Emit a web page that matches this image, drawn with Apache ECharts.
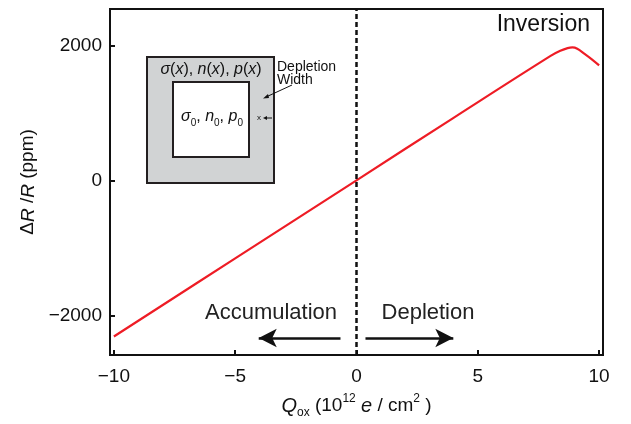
<!DOCTYPE html>
<html>
<head>
<meta charset="utf-8">
<script src="https://cdn.jsdelivr.net/npm/echarts@6/dist/echarts.min.js"></script>
<style>
  html, body { margin: 0; padding: 0; background: #fff; }
  #chart { width: 631px; height: 424px; }
</style>
</head>
<body>
<div id="chart"></div>
<script>
// Qox (1e12 e/cm2) vs dR/R (ppm)
const qox = [-10, -5, 0, 4, 8, 8.4, 8.7, 8.9, 9.1, 9.4, 9.7, 10]
const dRR = [-2300, -1145, 10, 934, 1850, 1925, 1965, 1975, 1955, 1880, 1800, 1710]

const xTicks = [-10, -5, 0, 5, 10]
const yTicks = [-2000, 0, 2000]

// arrows under the labels: [fromX, toX, y]
const accArrow = [-0.66, -4.03, -2323]
const depArrow = [0.37, 3.99, -2323]

const font = 'Liberation Sans, Arial, Helvetica, sans-serif'
const minus = v => String(v).replace('-', '\u2212')

const chart = echarts.init(document.getElementById('chart'))

const curve = qox.map((x, i) => [x, dRR[i]])

chart.setOption({
  animation: false,
  textStyle: { fontFamily: font },
  grid: {
    left: 110, right: 28, top: 9, bottom: 67,
    show: true, borderColor: '#111', borderWidth: 2,
    backgroundColor: 'transparent'
  },
  xAxis: {
    type: 'value',
    min: -10.16, max: 10.16,
    axisLine: { show: false, onZero: false },
    splitLine: { show: false },
    axisTick: {
      customValues: xTicks, inside: true, length: 5,
      lineStyle: { color: '#111', width: 2 }
    },
    axisLabel: {
      customValues: xTicks, margin: 12, fontSize: 19, color: '#111',
      fontFamily: font, formatter: minus
    },
    name: '{i|Q}{sub|ox} (10{sup|12} {i|e} / cm{sup|2} )',
    nameLocation: 'middle',
    nameGap: 38,
    nameTextStyle: {
      fontSize: 19, color: '#111', fontFamily: font,
      rich: {
        i: { fontSize: 20, fontStyle: 'italic', lineHeight: 26, color: '#111' },
        sub: { fontSize: 12, lineHeight: 12, verticalAlign: 'bottom', color: '#111' },
        sup: { fontSize: 12, lineHeight: 12, verticalAlign: 'top', color: '#111' }
      }
    }
  },
  yAxis: {
    type: 'value',
    min: -2574, max: 2544,
    axisLine: { show: false, onZero: false },
    splitLine: { show: false },
    axisTick: {
      customValues: yTicks, inside: true, length: 5,
      lineStyle: { color: '#111', width: 2 }
    },
    axisLabel: {
      customValues: yTicks, margin: 8, fontSize: 19, color: '#111',
      fontFamily: font, formatter: minus
    },
    name: '\u0394{i|R} /{i|R} (ppm)',
    nameLocation: 'middle',
    nameRotate: 90,
    nameGap: 72,
    nameTextStyle: {
      fontSize: 19, color: '#111', fontFamily: font,
      rich: { i: { fontSize: 19, fontStyle: 'italic', color: '#111' } }
    }
  },
  series: [
    {
      type: 'line',
      data: curve,
      smooth: 0.4,
      showSymbol: false,
      lineStyle: { color: '#ee1c25', width: 2.2 },
      markLine: {
        silent: true,
        label: { show: false },
        data: [
          [{ xAxis: 0, yAxis: -2574, symbol: 'none' }, { xAxis: 0, yAxis: 2544, symbol: 'none' }],
          [
            { coord: [accArrow[0], accArrow[2]], symbol: 'none',
              lineStyle: { type: 'solid', width: 2.5, color: '#111' } },
            { coord: [accArrow[1], accArrow[2]], symbol: 'arrow', symbolSize: [14, 18] }
          ],
          [
            { coord: [depArrow[0], depArrow[2]], symbol: 'none',
              lineStyle: { type: 'solid', width: 2.5, color: '#111' } },
            { coord: [depArrow[1], depArrow[2]], symbol: 'arrow', symbolSize: [14, 18] }
          ]
        ],
        lineStyle: { color: '#111', type: [5, 3], width: 2.5 }
      }
    }
  ],
  graphic: [
    // inset sketch
    { type: 'rect', shape: { x: 147, y: 57, width: 127, height: 126 },
      style: { fill: '#d1d3d4', stroke: '#231f20', lineWidth: 2 } },
    { type: 'rect', shape: { x: 173, y: 82, width: 76, height: 75 },
      style: { fill: '#fff', stroke: '#231f20', lineWidth: 2 } },
    { type: 'text', x: 211, y: 70,
      style: {
        text: '{i|\u03c3}({i|x}), {i|n}({i|x}), {i|p}({i|x})',
        fontSize: 16, fontFamily: font, fill: '#111', align: 'center', verticalAlign: 'middle',
        rich: { i: { fontSize: 16, fontStyle: 'italic', fill: '#111' } }
      } },
    { type: 'text', x: 212, y: 117,
      style: {
        text: '{i|\u03c3}{s|0}, {i|n}{s|0}, {i|p}{s|0}',
        fontSize: 16, fontFamily: font, fill: '#111', align: 'center', verticalAlign: 'middle',
        rich: {
          i: { fontSize: 16, fontStyle: 'italic', lineHeight: 22, fill: '#111' },
          s: { fontSize: 10, lineHeight: 10, verticalAlign: 'bottom', fill: '#111' }
        }
      } },
    { type: 'text', x: 277, y: 61,
      style: {
        text: 'Depletion\nWidth', fontSize: 14, lineHeight: 13, fontFamily: font,
        fill: '#111', align: 'left', verticalAlign: 'top'
      } },
    { type: 'line', shape: { x1: 292, y1: 85, x2: 266, y2: 97 },
      style: { stroke: '#111', lineWidth: 1 } },
    { type: 'polygon', shape: { points: [[263, 98.5], [268, 94], [269, 98]] },
      style: { fill: '#111' } },
    { type: 'text', x: 259, y: 118,
      style: { text: 'x', fontSize: 8, fontFamily: font, fill: '#111', align: 'center', verticalAlign: 'middle' } },
    { type: 'line', shape: { x1: 272, y1: 118, x2: 265, y2: 118 },
      style: { stroke: '#111', lineWidth: 1 } },
    { type: 'polygon', shape: { points: [[263, 118], [267, 116], [267, 120]] },
      style: { fill: '#111' } },
    // region labels
    { type: 'text', x: 590, y: 25,
      style: { text: 'Inversion', fontSize: 23, fontFamily: font, fill: '#111', align: 'right', verticalAlign: 'middle' } },
    { type: 'text', x: 271, y: 313,
      style: { text: 'Accumulation', fontSize: 22, fontFamily: font, fill: '#222', align: 'center', verticalAlign: 'middle' } },
    { type: 'text', x: 428, y: 313,
      style: { text: 'Depletion', fontSize: 22, fontFamily: font, fill: '#222', align: 'center', verticalAlign: 'middle' } }
  ]
})
</script>
</body>
</html>
